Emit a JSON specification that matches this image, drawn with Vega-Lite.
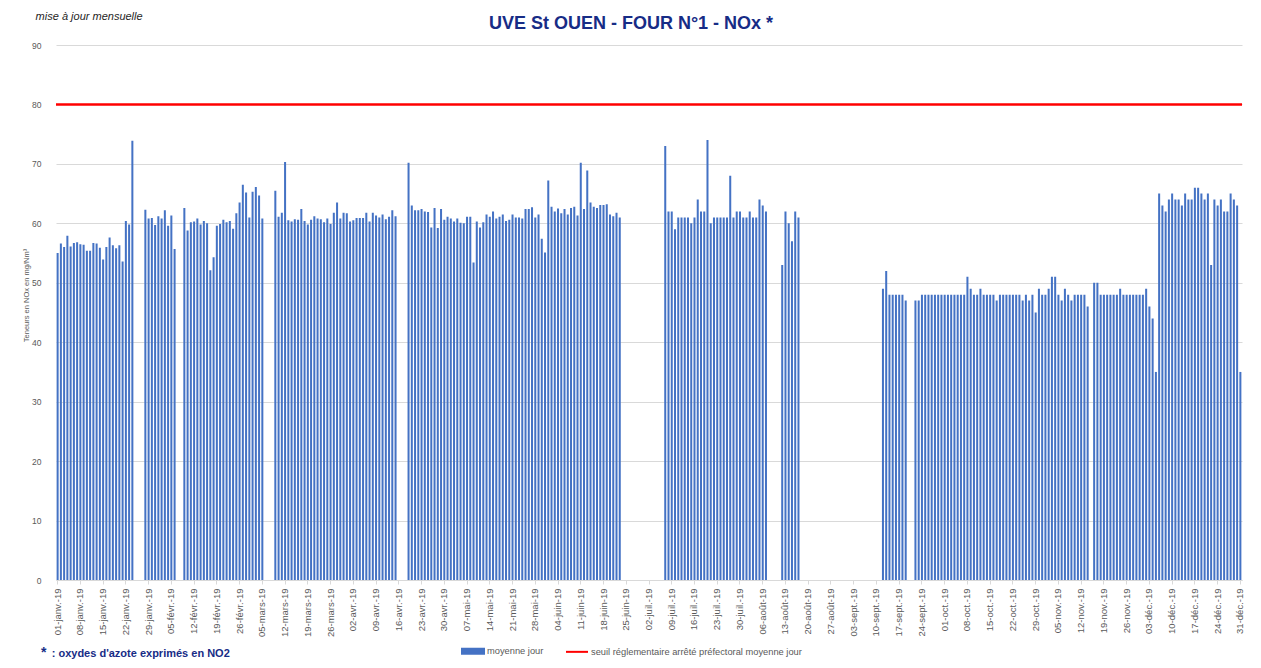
{
"$schema": "https://vega.github.io/schema/vega-lite/v6.json",
"width": 1186, "height": 535,
"autosize": {"type": "none"},
"padding": {"left": 56, "top": 45, "right": 19, "bottom": 88},
"background": "white",
"title": {"text": "UVE St OUEN - FOUR N°1 - NOx *", "font": "Liberation Sans", "fontSize": 18, "fontWeight": "bold", "color": "#172C86", "anchor": "middle", "frame": "group", "dx": -18, "offset": 13, "baseline": "alphabetic", "dy": 49},
"config": {"view": {"stroke": null}, "font": "Liberation Sans"},
"datasets": {"jours": [
{"d":"2019-01-01","v":55.0},{"d":"2019-01-02","v":56.6},{"d":"2019-01-03","v":56.0},{"d":"2019-01-04","v":57.9},{"d":"2019-01-05","v":56.1},{"d":"2019-01-06","v":56.7},{"d":"2019-01-07","v":56.8},{"d":"2019-01-08","v":56.5},{"d":"2019-01-09","v":56.4},{"d":"2019-01-10","v":55.4},{"d":"2019-01-11","v":55.4},{"d":"2019-01-12","v":56.7},{"d":"2019-01-13","v":56.6},{"d":"2019-01-14","v":55.9},{"d":"2019-01-15","v":53.9},{"d":"2019-01-16","v":56.0},{"d":"2019-01-17","v":57.6},{"d":"2019-01-18","v":56.3},{"d":"2019-01-19","v":55.8},{"d":"2019-01-20","v":56.3},{"d":"2019-01-21","v":53.6},{"d":"2019-01-22","v":60.4},{"d":"2019-01-23","v":59.8},{"d":"2019-01-24","v":73.9},{"d":"2019-01-25","v":null},{"d":"2019-01-26","v":null},{"d":"2019-01-27","v":null},{"d":"2019-01-28","v":62.3},{"d":"2019-01-29","v":60.8},{"d":"2019-01-30","v":60.9},{"d":"2019-01-31","v":59.7},
{"d":"2019-02-01","v":61.2},{"d":"2019-02-02","v":60.8},{"d":"2019-02-03","v":62.2},{"d":"2019-02-04","v":59.6},{"d":"2019-02-05","v":61.3},{"d":"2019-02-06","v":55.7},{"d":"2019-02-07","v":null},{"d":"2019-02-08","v":null},{"d":"2019-02-09","v":62.6},{"d":"2019-02-10","v":58.8},{"d":"2019-02-11","v":60.2},{"d":"2019-02-12","v":60.3},{"d":"2019-02-13","v":60.8},{"d":"2019-02-14","v":59.8},{"d":"2019-02-15","v":60.4},{"d":"2019-02-16","v":60.0},{"d":"2019-02-17","v":52.1},{"d":"2019-02-18","v":54.3},{"d":"2019-02-19","v":59.6},{"d":"2019-02-20","v":59.9},{"d":"2019-02-21","v":60.6},{"d":"2019-02-22","v":60.2},{"d":"2019-02-23","v":60.4},{"d":"2019-02-24","v":59.1},{"d":"2019-02-25","v":61.7},{"d":"2019-02-26","v":63.5},{"d":"2019-02-27","v":66.5},{"d":"2019-02-28","v":65.2},
{"d":"2019-03-01","v":61.0},{"d":"2019-03-02","v":65.3},{"d":"2019-03-03","v":66.1},{"d":"2019-03-04","v":64.7},{"d":"2019-03-05","v":60.8},{"d":"2019-03-06","v":null},{"d":"2019-03-07","v":null},{"d":"2019-03-08","v":null},{"d":"2019-03-09","v":65.5},{"d":"2019-03-10","v":61.1},{"d":"2019-03-11","v":61.8},{"d":"2019-03-12","v":70.3},{"d":"2019-03-13","v":60.5},{"d":"2019-03-14","v":60.3},{"d":"2019-03-15","v":60.7},{"d":"2019-03-16","v":60.6},{"d":"2019-03-17","v":62.4},{"d":"2019-03-18","v":60.4},{"d":"2019-03-19","v":59.8},{"d":"2019-03-20","v":60.6},{"d":"2019-03-21","v":61.2},{"d":"2019-03-22","v":60.8},{"d":"2019-03-23","v":60.7},{"d":"2019-03-24","v":60.2},{"d":"2019-03-25","v":60.8},{"d":"2019-03-26","v":59.9},{"d":"2019-03-27","v":61.8},{"d":"2019-03-28","v":63.5},{"d":"2019-03-29","v":60.8},{"d":"2019-03-30","v":61.8},{"d":"2019-03-31","v":61.7},
{"d":"2019-04-01","v":60.3},{"d":"2019-04-02","v":60.5},{"d":"2019-04-03","v":60.9},{"d":"2019-04-04","v":60.9},{"d":"2019-04-05","v":60.9},{"d":"2019-04-06","v":61.8},{"d":"2019-04-07","v":60.3},{"d":"2019-04-08","v":61.8},{"d":"2019-04-09","v":61.3},{"d":"2019-04-10","v":61.0},{"d":"2019-04-11","v":61.5},{"d":"2019-04-12","v":60.7},{"d":"2019-04-13","v":61.1},{"d":"2019-04-14","v":62.2},{"d":"2019-04-15","v":61.2},{"d":"2019-04-16","v":null},{"d":"2019-04-17","v":null},{"d":"2019-04-18","v":null},{"d":"2019-04-19","v":70.2},{"d":"2019-04-20","v":63.0},{"d":"2019-04-21","v":62.2},{"d":"2019-04-22","v":62.2},{"d":"2019-04-23","v":62.4},{"d":"2019-04-24","v":62.0},{"d":"2019-04-25","v":61.9},{"d":"2019-04-26","v":59.3},{"d":"2019-04-27","v":62.6},{"d":"2019-04-28","v":59.2},{"d":"2019-04-29","v":62.4},{"d":"2019-04-30","v":60.6},
{"d":"2019-05-01","v":61.1},{"d":"2019-05-02","v":60.8},{"d":"2019-05-03","v":60.3},{"d":"2019-05-04","v":60.8},{"d":"2019-05-05","v":60.1},{"d":"2019-05-06","v":60.0},{"d":"2019-05-07","v":61.1},{"d":"2019-05-08","v":61.1},{"d":"2019-05-09","v":53.4},{"d":"2019-05-10","v":60.3},{"d":"2019-05-11","v":59.3},{"d":"2019-05-12","v":60.2},{"d":"2019-05-13","v":61.5},{"d":"2019-05-14","v":61.1},{"d":"2019-05-15","v":62.0},{"d":"2019-05-16","v":60.8},{"d":"2019-05-17","v":61.1},{"d":"2019-05-18","v":61.5},{"d":"2019-05-19","v":60.4},{"d":"2019-05-20","v":60.6},{"d":"2019-05-21","v":61.5},{"d":"2019-05-22","v":61.0},{"d":"2019-05-23","v":61.0},{"d":"2019-05-24","v":60.8},{"d":"2019-05-25","v":62.4},{"d":"2019-05-26","v":62.4},{"d":"2019-05-27","v":62.7},{"d":"2019-05-28","v":61.0},{"d":"2019-05-29","v":61.5},{"d":"2019-05-30","v":57.4},{"d":"2019-05-31","v":55.1},
{"d":"2019-06-01","v":67.2},{"d":"2019-06-02","v":62.8},{"d":"2019-06-03","v":62.0},{"d":"2019-06-04","v":62.5},{"d":"2019-06-05","v":61.7},{"d":"2019-06-06","v":62.4},{"d":"2019-06-07","v":61.5},{"d":"2019-06-08","v":62.6},{"d":"2019-06-09","v":62.8},{"d":"2019-06-10","v":61.3},{"d":"2019-06-11","v":70.2},{"d":"2019-06-12","v":62.4},{"d":"2019-06-13","v":68.9},{"d":"2019-06-14","v":63.5},{"d":"2019-06-15","v":62.8},{"d":"2019-06-16","v":62.6},{"d":"2019-06-17","v":63.1},{"d":"2019-06-18","v":63.1},{"d":"2019-06-19","v":63.2},{"d":"2019-06-20","v":61.5},{"d":"2019-06-21","v":61.2},{"d":"2019-06-22","v":61.8},{"d":"2019-06-23","v":61.0},{"d":"2019-06-24","v":null},{"d":"2019-06-25","v":null},{"d":"2019-06-26","v":null},{"d":"2019-06-27","v":null},{"d":"2019-06-28","v":null},{"d":"2019-06-29","v":null},{"d":"2019-06-30","v":null},
{"d":"2019-07-01","v":null},{"d":"2019-07-02","v":null},{"d":"2019-07-03","v":null},{"d":"2019-07-04","v":null},{"d":"2019-07-05","v":null},{"d":"2019-07-06","v":null},{"d":"2019-07-07","v":73},{"d":"2019-07-08","v":62},{"d":"2019-07-09","v":62},{"d":"2019-07-10","v":59},{"d":"2019-07-11","v":61},{"d":"2019-07-12","v":61},{"d":"2019-07-13","v":61},{"d":"2019-07-14","v":61},{"d":"2019-07-15","v":60},{"d":"2019-07-16","v":61},{"d":"2019-07-17","v":64},{"d":"2019-07-18","v":62},{"d":"2019-07-19","v":62},{"d":"2019-07-20","v":74},{"d":"2019-07-21","v":60},{"d":"2019-07-22","v":61},{"d":"2019-07-23","v":61},{"d":"2019-07-24","v":61},{"d":"2019-07-25","v":61},{"d":"2019-07-26","v":61},{"d":"2019-07-27","v":68},{"d":"2019-07-28","v":61},{"d":"2019-07-29","v":62},{"d":"2019-07-30","v":62},{"d":"2019-07-31","v":61},
{"d":"2019-08-01","v":61},{"d":"2019-08-02","v":62},{"d":"2019-08-03","v":61},{"d":"2019-08-04","v":61},{"d":"2019-08-05","v":64},{"d":"2019-08-06","v":63},{"d":"2019-08-07","v":62},{"d":"2019-08-08","v":null},{"d":"2019-08-09","v":null},{"d":"2019-08-10","v":null},{"d":"2019-08-11","v":null},{"d":"2019-08-12","v":53},{"d":"2019-08-13","v":62},{"d":"2019-08-14","v":60},{"d":"2019-08-15","v":57},{"d":"2019-08-16","v":62},{"d":"2019-08-17","v":61},{"d":"2019-08-18","v":null},{"d":"2019-08-19","v":null},{"d":"2019-08-20","v":null},{"d":"2019-08-21","v":null},{"d":"2019-08-22","v":null},{"d":"2019-08-23","v":null},{"d":"2019-08-24","v":null},{"d":"2019-08-25","v":null},{"d":"2019-08-26","v":null},{"d":"2019-08-27","v":null},{"d":"2019-08-28","v":null},{"d":"2019-08-29","v":null},{"d":"2019-08-30","v":null},{"d":"2019-08-31","v":null},
{"d":"2019-09-01","v":null},{"d":"2019-09-02","v":null},{"d":"2019-09-03","v":null},{"d":"2019-09-04","v":null},{"d":"2019-09-05","v":null},{"d":"2019-09-06","v":null},{"d":"2019-09-07","v":null},{"d":"2019-09-08","v":null},{"d":"2019-09-09","v":null},{"d":"2019-09-10","v":null},{"d":"2019-09-11","v":null},{"d":"2019-09-12","v":49},{"d":"2019-09-13","v":52},{"d":"2019-09-14","v":48},{"d":"2019-09-15","v":48},{"d":"2019-09-16","v":48},{"d":"2019-09-17","v":48},{"d":"2019-09-18","v":48},{"d":"2019-09-19","v":47},{"d":"2019-09-20","v":null},{"d":"2019-09-21","v":null},{"d":"2019-09-22","v":47},{"d":"2019-09-23","v":47},{"d":"2019-09-24","v":48},{"d":"2019-09-25","v":48},{"d":"2019-09-26","v":48},{"d":"2019-09-27","v":48},{"d":"2019-09-28","v":48},{"d":"2019-09-29","v":48},{"d":"2019-09-30","v":48},
{"d":"2019-10-01","v":48},{"d":"2019-10-02","v":48},{"d":"2019-10-03","v":48},{"d":"2019-10-04","v":48},{"d":"2019-10-05","v":48},{"d":"2019-10-06","v":48},{"d":"2019-10-07","v":48},{"d":"2019-10-08","v":51},{"d":"2019-10-09","v":49},{"d":"2019-10-10","v":48},{"d":"2019-10-11","v":48},{"d":"2019-10-12","v":49},{"d":"2019-10-13","v":48},{"d":"2019-10-14","v":48},{"d":"2019-10-15","v":48},{"d":"2019-10-16","v":48},{"d":"2019-10-17","v":47},{"d":"2019-10-18","v":48},{"d":"2019-10-19","v":48},{"d":"2019-10-20","v":48},{"d":"2019-10-21","v":48},{"d":"2019-10-22","v":48},{"d":"2019-10-23","v":48},{"d":"2019-10-24","v":48},{"d":"2019-10-25","v":47},{"d":"2019-10-26","v":48},{"d":"2019-10-27","v":47},{"d":"2019-10-28","v":48},{"d":"2019-10-29","v":45},{"d":"2019-10-30","v":49},{"d":"2019-10-31","v":48},
{"d":"2019-11-01","v":48},{"d":"2019-11-02","v":49},{"d":"2019-11-03","v":51},{"d":"2019-11-04","v":51},{"d":"2019-11-05","v":48},{"d":"2019-11-06","v":47},{"d":"2019-11-07","v":49},{"d":"2019-11-08","v":48},{"d":"2019-11-09","v":47},{"d":"2019-11-10","v":48},{"d":"2019-11-11","v":48},{"d":"2019-11-12","v":48},{"d":"2019-11-13","v":48},{"d":"2019-11-14","v":46},{"d":"2019-11-15","v":null},{"d":"2019-11-16","v":50},{"d":"2019-11-17","v":50},{"d":"2019-11-18","v":48},{"d":"2019-11-19","v":48},{"d":"2019-11-20","v":48},{"d":"2019-11-21","v":48},{"d":"2019-11-22","v":48},{"d":"2019-11-23","v":48},{"d":"2019-11-24","v":49},{"d":"2019-11-25","v":48},{"d":"2019-11-26","v":48},{"d":"2019-11-27","v":48},{"d":"2019-11-28","v":48},{"d":"2019-11-29","v":48},{"d":"2019-11-30","v":48},
{"d":"2019-12-01","v":48},{"d":"2019-12-02","v":49},{"d":"2019-12-03","v":46},{"d":"2019-12-04","v":44},{"d":"2019-12-05","v":35},{"d":"2019-12-06","v":65},{"d":"2019-12-07","v":63},{"d":"2019-12-08","v":62},{"d":"2019-12-09","v":64},{"d":"2019-12-10","v":65},{"d":"2019-12-11","v":64},{"d":"2019-12-12","v":64},{"d":"2019-12-13","v":63},{"d":"2019-12-14","v":65},{"d":"2019-12-15","v":64},{"d":"2019-12-16","v":64},{"d":"2019-12-17","v":66},{"d":"2019-12-18","v":66},{"d":"2019-12-19","v":65},{"d":"2019-12-20","v":64},{"d":"2019-12-21","v":65},{"d":"2019-12-22","v":53},{"d":"2019-12-23","v":64},{"d":"2019-12-24","v":63},{"d":"2019-12-25","v":64},{"d":"2019-12-26","v":62},{"d":"2019-12-27","v":62},{"d":"2019-12-28","v":65},{"d":"2019-12-29","v":64},{"d":"2019-12-30","v":63},{"d":"2019-12-31","v":35}
]},
"layer": [
{
"data": {"name": "jours"},
"mark": {"type": "point", "opacity": 0},
"encoding": {"x": {"field": "d", "type": "ordinal"}}
},
{
"data": {"name": "jours"},
"mark": {"type": "bar"},
"encoding": {
"x": {"field": "d", "type": "ordinal", "scale": {"paddingInner": 0.38, "paddingOuter": 0.19},
 "axis": {"title": null, "values": ["2019-01-01","2019-01-08","2019-01-15","2019-01-22","2019-01-29","2019-02-05","2019-02-12","2019-02-19","2019-02-26","2019-03-05","2019-03-12","2019-03-19","2019-03-26","2019-04-02","2019-04-09","2019-04-16","2019-04-23","2019-04-30","2019-05-07","2019-05-14","2019-05-21","2019-05-28","2019-06-04","2019-06-11","2019-06-18","2019-06-25","2019-07-02","2019-07-09","2019-07-16","2019-07-23","2019-07-30","2019-08-06","2019-08-13","2019-08-20","2019-08-27","2019-09-03","2019-09-10","2019-09-17","2019-09-24","2019-10-01","2019-10-08","2019-10-15","2019-10-22","2019-10-29","2019-11-05","2019-11-12","2019-11-19","2019-11-26","2019-12-03","2019-12-10","2019-12-17","2019-12-24","2019-12-31"],
  "labelExpr": "substring(datum.value,8,10) + '-' + ['janv.','févr.','mars','avr.','mai','juin','juil.','août','sept.','oct.','nov.','déc.'][toNumber(substring(datum.value,5,7))-1] + '-19'",
  "labelAngle": -90, "labelFontSize": 9.5, "labelColor": "#595959", "labelPadding": 4, "labelOverlap": false,
  "tickSize": 4, "tickColor": "#D9D9D9", "domainColor": "#D9D9D9", "grid": false}},
"y": {"field": "v", "type": "quantitative", "scale": {"domain": [0, 90], "nice": false},
 "axis": {"title": "Teneurs en NOx en mg/Nm³", "values": [0,10,20,30,40,50,60,70,80,90], "grid": true, "gridColor": "#D9D9D9", "domain": false, "ticks": false,
  "labelPadding": 15, "labelFontSize": 8.5, "labelColor": "#595959",
  "titleFontSize": 7.5, "titleFontWeight": "normal", "titleColor": "#595959", "titleX": -30, "titleY": 250, "titleBaseline": "middle"}},
"color": {"datum": "moyenne jour", "type": "nominal",
 "scale": {"domain": ["moyenne jour", "seuil réglementaire arrêté préfectoral moyenne jour"], "range": ["#4472C4", "#FF0000"]},
 "legend": {"orient": "none", "legendX": 405, "legendY": 594, "direction": "horizontal", "title": null, "symbolSize": 484,
  "labelFontSize": 9.3, "labelColor": "#595959", "labelFont": "Liberation Sans", "columnPadding": 18, "labelOffset": 2, "padding": 0, "labelLimit": 400,
  "encode": {"symbols": {"update": {
   "shape": {"signal": "datum.value === 'moyenne jour' ? 'M-1,-0.23H1V0.23H-1Z' : 'stroke'"},
   "fill": {"signal": "datum.value === 'moyenne jour' ? '#4472C4' : 'transparent'"},
   "stroke": {"signal": "datum.value === 'moyenne jour' ? 'transparent' : '#FF0000'"},
   "strokeWidth": {"value": 2}, "opacity": {"value": 1}, "fillOpacity": {"value": 1}, "strokeOpacity": {"value": 1}}}}}}
}
},
{
"data": {"values": [{"seuil": 80}]},
"mark": {"type": "rule", "strokeWidth": 2.5},
"encoding": {"y": {"field": "seuil", "type": "quantitative"}, "color": {"datum": "seuil réglementaire arrêté préfectoral moyenne jour", "type": "nominal"}}
},
{
"data": {"values": [{"t": "mise à jour mensuelle"}]},
"mark": {"type": "text", "align": "left", "baseline": "middle", "dx": -22, "fontStyle": "italic", "fontSize": 11, "color": "#262626"},
"encoding": {"x": {"datum": "2019-01-01", "type": "ordinal"}, "y": {"datum": 94.66, "type": "quantitative"}, "text": {"field": "t"}}
},
{
"data": {"values": [{"t": "*"}]},
"mark": {"type": "text", "align": "left", "baseline": "alphabetic", "dx": -16.6, "fontWeight": "bold", "fontSize": 14, "color": "#172C86"},
"encoding": {"x": {"datum": "2019-01-01", "type": "ordinal"}, "y": {"datum": -12.95, "type": "quantitative"}, "text": {"field": "t"}}
},
{
"data": {"values": [{"t": ": oxydes d'azote exprimés en NO2"}]},
"mark": {"type": "text", "align": "left", "baseline": "alphabetic", "dx": -5.9, "fontWeight": "bold", "fontSize": 11, "color": "#172C86"},
"encoding": {"x": {"datum": "2019-01-01", "type": "ordinal"}, "y": {"datum": -12.95, "type": "quantitative"}, "text": {"field": "t"}}
}
]
}
